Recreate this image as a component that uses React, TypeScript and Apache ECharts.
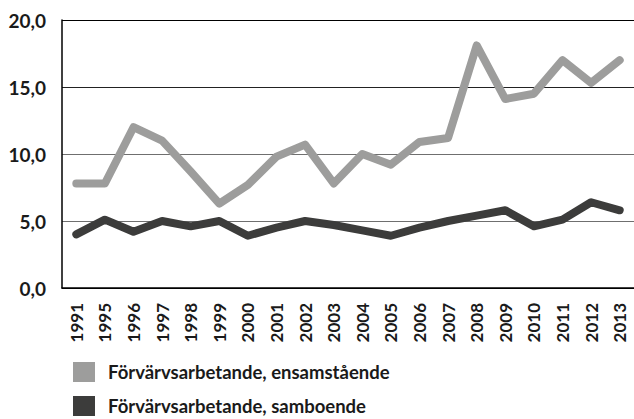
import React, { useEffect, useRef } from "react";
import * as echarts from "echarts";

const categories = ["1991","1995","1996","1997","1998","1999","2000","2001","2002","2003","2004","2005","2006","2007","2008","2009","2010","2011","2012","2013"];
const ensamstaende = [7.8,7.8,12.0,11.0,8.7,6.3,7.7,9.8,10.7,7.8,10.0,9.2,10.9,11.2,18.1,14.1,14.5,17.0,15.3,17.0];
const samboende = [4.0,5.1,4.2,5.0,4.6,5.0,3.9,4.5,5.0,4.7,4.3,3.9,4.5,5.0,5.4,5.8,4.6,5.1,6.4,5.8];
const seriesNames = ["Förvärvsarbetande, ensamstående", "Förvärvsarbetande, samboende"];
const yTicks = [0, 5, 10, 15, 20];

const FONT = "Lato, 'Noto Sans', sans-serif";

export default function App() {
  const ref = useRef<HTMLDivElement>(null);
  useEffect(() => {
    if (!ref.current) return;
    const chart = echarts.init(ref.current, null, { renderer: "svg" });
    chart.setOption({
      animation: false,
      backgroundColor: "#ffffff",
      grid: { left: 62, right: 0, top: 20, bottom: 131 },
      legend: {
        orient: "vertical",
        left: 73,
        top: 362,
        padding: 0,
        itemWidth: 22,
        itemHeight: 20,
        itemGap: 14,
        icon: "rect",
        textStyle: { fontFamily: FONT, fontWeight: "bold", fontSize: 18.5, color: "#1a1a1a", padding: [0, 0, 0, 8] },
        data: seriesNames,
      },
      xAxis: {
        type: "category",
        data: categories,
        boundaryGap: true,
        axisTick: { show: false },
        axisLine: { lineStyle: { color: "#000", width: 1.5 } },
        axisLabel: {
          rotate: 90,
          interval: 0,
          margin: 15,
          fontFamily: FONT,
          fontWeight: "bold",
          fontSize: 17,
          color: "#1a1a1a",
        },
      },
      yAxis: {
        type: "value",
        min: yTicks[0],
        max: yTicks[yTicks.length - 1],
        interval: 5,
        axisLine: { show: true, lineStyle: { color: "#000", width: 1.5 } },
        axisTick: { show: false },
        splitLine: { lineStyle: { color: ["#000", "#6f6f6f", "#6f6f6f", "#222", "#000"], width: 1 } },
        axisLabel: {
          margin: 16,
          fontFamily: FONT,
          fontWeight: "bold",
          fontSize: 19,
          color: "#1a1a1a",
          formatter: (v: number) => v.toFixed(1).replace(".", ","),
        },
      },
      series: [
        {
          name: seriesNames[0],
          type: "line",
          data: ensamstaende,
          symbol: "none",
          color: "#9d9d9c",
          lineStyle: { width: 8, color: "#9d9d9c", cap: "round", join: "round" },
        },
        {
          name: seriesNames[1],
          type: "line",
          data: samboende,
          symbol: "none",
          color: "#3c3c3b",
          lineStyle: { width: 8, color: "#3c3c3b", cap: "round", join: "round" },
        },
      ],
    });
    return () => chart.dispose();
  }, []);
  return <div ref={ref} style={{ width: 634, height: 419, position: "absolute", left: 0, top: 0 }} />;
}
